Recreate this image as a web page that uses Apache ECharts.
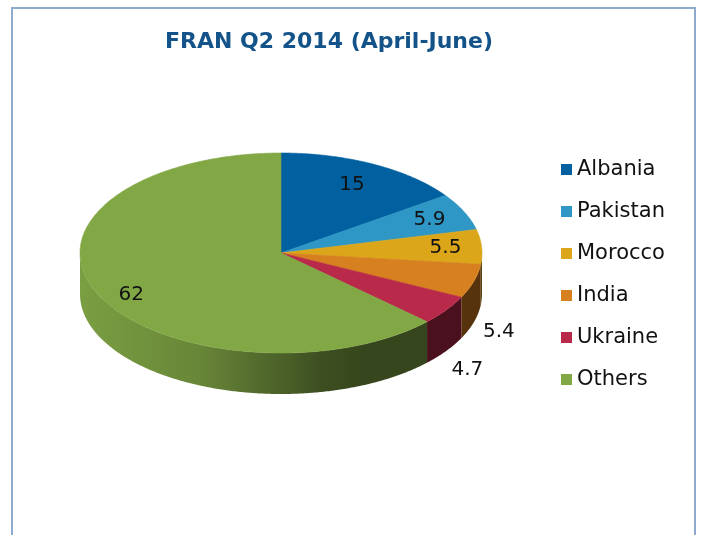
<!DOCTYPE html>
<html>
<head>
<meta charset="utf-8">
<script src="https://cdn.jsdelivr.net/npm/echarts@6/dist/echarts.min.js"></script>
<style>html,body{margin:0;padding:0;background:#fff;}#chart{width:703px;height:535px;}</style>
</head>
<body>
<div id="chart"></div>
<script>
const titleText = 'FRAN Q2 2014 (April-June)';
const categories = ['Albania', 'Pakistan', 'Morocco', 'India', 'Ukraine', 'Others'];
const values = [15, 5.9, 5.5, 5.4, 4.7, 62];
const colors = ['#0060a0', '#2f97c5', '#dba61a', '#d6801f', '#b8294a', '#82a846'];
const outsideLabels = ['India', 'Ukraine'];

// geometry (style)
const CX = 281, CY = 253, RX = 201, RY = 100, DEPTH = 41;
const total = values.reduce((a, b) => a + b, 0);
const starts = [];
let acc = 0;
values.forEach(v => { starts.push(acc / total * 360); acc += v; });

function pt(deg, dy) {
  const r = deg * Math.PI / 180;
  return [CX + RX * Math.sin(r), CY - RY * Math.cos(r) + (dy || 0)];
}
function shade(hex, f) {
  const n = parseInt(hex.slice(1), 16);
  const r = Math.round(((n >> 16) & 255) * f), g = Math.round(((n >> 8) & 255) * f), b = Math.round((n & 255) * f);
  return 'rgb(' + r + ',' + g + ',' + b + ')';
}
function arcPts(a, b, dy) {
  const pts = [];
  const n = Math.max(2, Math.ceil(Math.abs(b - a) / 0.5));
  for (let k = 0; k <= n; k++) pts.push(pt(a + (b - a) * k / n, dy));
  return pts;
}
const shadeStops = [[0, 0.94], [0.3, 0.8], [0.45, 0.63], [0.6, 0.47], [0.7, 0.42], [1, 0.4]];

function makeRender(i) {
  return function (params, api) {
    const a = starts[i];
    const b = starts[i] + values[i] / total * 360;
    const col = colors[i];
    const children = [];
    const top = [[CX, CY]].concat(arcPts(a, b, 0));
    children.push({
      type: 'polygon', z2: 10,
      shape: { points: top },
      style: { fill: col, stroke: col, lineWidth: 0.6 }
    });
    const sa = Math.max(a, 90), sb = Math.min(b, 270);
    if (sb > sa) {
      const side = arcPts(sa, sb, 0).concat(arcPts(sb, sa, DEPTH));
      children.push({
        type: 'polygon', z2: 1,
        shape: { points: side },
        style: {
          fill: {
            type: 'linear', global: true, x: CX - RX, y: 0, x2: CX + RX, y2: 0,
            colorStops: shadeStops.map(s => ({ offset: s[0], color: shade(col, s[1]) }))
          },
          stroke: null
        }
      });
    }
    const mid = (a + b) / 2, mr = mid * Math.PI / 180;
    const s = Math.sin(mr), c = Math.cos(mr);
    let lx, ly;
    if (outsideLabels.indexOf(categories[i]) >= 0) {
      const e = pt(mid, DEPTH);
      lx = e[0] + s * 26; ly = e[1] - c * 33;
    } else {
      const k = 0.72 + 0.1 * Math.abs(s);
      lx = CX + k * RX * s;
      ly = CY - k * RY * c + Math.max(0, -c) * DEPTH * 0.6;
    }
    children.push({
      type: 'text', z2: 20,
      style: {
        text: String(values[i]), x: lx, y: ly,
        fill: '#111', fontSize: 20, fontFamily: 'DejaVu Sans',
        align: 'center', verticalAlign: 'middle',
        textAlign: 'center', textVerticalAlign: 'middle'
      }
    });
    return { type: 'group', children: children };
  };
}

const chart = echarts.init(document.getElementById('chart'), null, { renderer: 'canvas' });
chart.setOption({
  animation: false,
  backgroundColor: '#fff',
  color: colors,
  title: {
    text: titleText, left: 165, top: 31, padding: 0,
    textStyle: { color: '#135389', fontSize: 22, fontWeight: 'bold', fontFamily: 'DejaVu Sans' }
  },
  legend: {
    orient: 'vertical', left: 561, top: 159, padding: 0,
    itemWidth: 11, itemHeight: 11, itemGap: 21, icon: 'rect',
    data: categories,
    textStyle: { fontSize: 21, color: '#111', fontFamily: 'DejaVu Sans' }
  },
  graphic: [{
    type: 'rect', silent: true,
    shape: { x: 12, y: 8, width: 683, height: 560 },
    style: { fill: 'none', stroke: '#8eaacd', lineWidth: 2 }
  }],
  series: categories.map((name, i) => ({
    type: 'custom', name: name, coordinateSystem: 'none',
    itemStyle: { color: colors[i] },
    data: [values[i]],
    renderItem: makeRender(i)
  }))
});
</script>
</body>
</html>
